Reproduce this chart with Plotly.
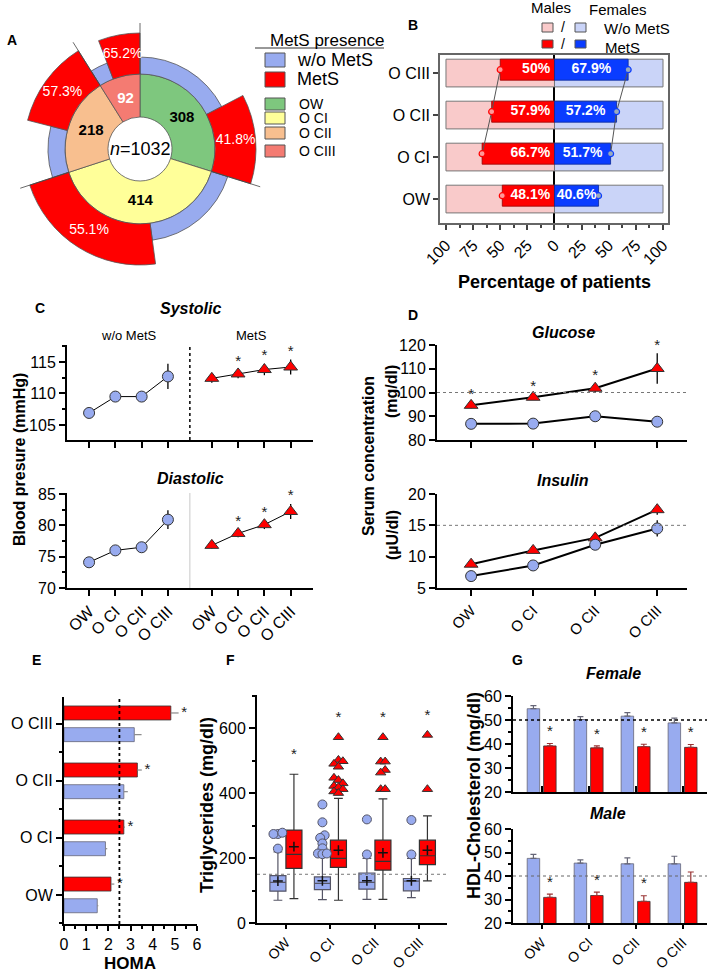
import plotly.graph_objects as go

W, H = 709, 972
FONT = "Liberation Sans, Arial, Helvetica, sans-serif"

# ------------------------------------------------------------------ data
groups = ["OW", "O CI", "O CII", "O CIII"]

# A: patients per group and % with MetS
group_n = [308, 414, 218, 92]
mets_pct = [41.8, 55.1, 57.3, 65.2]

# B: % with MetS by sex
total_pct = 100
male_mets_pct = [48.1, 66.7, 57.9, 50.0]
female_mets_pct = [40.6, 51.7, 57.2, 67.9]

# C: blood pressure (mean, error)
sys_wo = [106.9, 109.5, 109.5, 112.7]
sys_wo_err = [0.4, 0.5, 0.6, 2.0]
sys_m = [112.4, 113.1, 113.8, 114.2]
sys_m_err = [0.7, 0.7, 0.9, 1.2]
sys_sig = [False, True, True, True]
dia_wo = [74.1, 76.0, 76.5, 80.9]
dia_wo_err = [0.4, 0.4, 0.5, 1.5]
dia_m = [76.8, 78.7, 80.1, 82.2]
dia_m_err = [0.5, 0.6, 0.7, 1.2]
dia_sig = [False, True, True, True]

# D: glucose / insulin
glu_wo = [86.8, 86.9, 90.0, 87.7]
glu_wo_err = [0.8, 0.8, 1.3, 1.5]
glu_m = [94.6, 98.0, 101.8, 110.1]
glu_m_err = [1.2, 1.2, 1.8, 6.4]
glu_sig = [True, True, True, True]
ins_wo = [6.9, 8.6, 11.9, 14.5]
ins_wo_err = [0.3, 0.4, 0.6, 1.3]
ins_m = [8.8, 11.0, 13.0, 17.5]
ins_m_err = [0.4, 0.4, 0.6, 0.8]

# E: HOMA
homa_wo = [1.5, 1.87, 2.7, 3.17]
homa_wo_err = [0.05, 0.08, 0.18, 0.33]
homa_m = [2.12, 2.7, 3.31, 4.82]
homa_m_err = [0.15, 0.05, 0.2, 0.35]
homa_sig = [True, True, True, True]

# F: triglycerides box stats
tg_wo_q1 = [98, 103, 104, 99]
tg_wo_med = [125, 122, 125, 129]
tg_wo_q3 = [146, 142, 154, 137]
tg_wo_lo = [70, 72, 73, 78]
tg_wo_hi = [219, 209, 199, 199]
tg_wo_mean = [129, 130, 130, 130]
tg_wo_out = [[274, 274, 278, 229],
             [365, 310, 270, 262, 245, 230, 214, 212, 214],
             [319, 211], [317, 211]]
tg_m_q1 = [168, 171, 163, 180]
tg_m_med = [211, 199, 190, 207]
tg_m_q3 = [286, 255, 255, 255]
tg_m_lo = [75, 70, 73, 130]
tg_m_hi = [458, 384, 382, 330]
tg_m_mean = [235, 224, 216, 224]
tg_m_out = [[],
            [572, 502, 498, 490, 481, 447, 440, 430, 422, 418, 412, 405, 400],
            [572, 497, 497, 471, 463, 412, 412],
            [579, 412]]
tg_sig = [True, True, True, True]

# G: HDL cholesterol
hdl_f_wo = [54.7, 50.2, 51.6, 48.8]
hdl_f_wo_err = [1.3, 1.2, 1.5, 2.0]
hdl_f_m = [39.2, 38.4, 38.9, 38.6]
hdl_f_m_err = [1.0, 0.8, 1.0, 1.2]
hdl_f_sig = [True, True, True, True]
hdl_m_wo = [47.5, 45.5, 45.2, 45.2]
hdl_m_wo_err = [1.7, 1.4, 2.5, 3.2]
hdl_m_m = [30.9, 31.7, 29.2, 37.3]
hdl_m_m_err = [1.4, 1.4, 2.4, 4.4]
hdl_m_sig = [True, True, True, False]

# ------------------------------------------------------------------ style
BLUE_L = "#98abef"
RED = "#ff0000"
CAT_COLORS = ["#7ec77e", "#ffff99", "#f8bf8f", "#f47b72"]
PINK = "#f9caca"
LBLUE = "#cad4f8"
DBLUE = "#0a3cff"
OUT = "#333333"
pos = list(range(len(groups)))


def fx(px):
    return px / W


def fy(py):
    return 1 - py / H


def xdom(a, b):
    return [a / W, b / W]


def ydom(top, bottom):
    return [1 - bottom / H, 1 - top / H]


def axis(dom, rng, anchor, **kw):
    d = dict(domain=dom, range=rng, anchor=anchor, showgrid=False, zeroline=False,
             automargin=False,
             showline=True, linecolor="black", linewidth=2, ticks="outside",
             tickcolor="black", tickwidth=1.5, ticklen=6,
             tickfont=dict(size=16, color="black", family=FONT), fixedrange=True)
    d.update(kw)
    return d


annotations = []
shapes = []


def ann(text, x, y, size=14, color="black", xanchor="center", yanchor="middle",
        angle=0, bold=False, italic=False):
    t = text
    if bold:
        t = "<b>" + t + "</b>"
    if italic:
        t = "<i>" + t + "</i>"
    annotations.append(dict(text=t, x=fx(x), y=fy(y), xref="paper", yref="paper",
                            showarrow=False, xanchor=xanchor, yanchor=yanchor,
                            textangle=angle,
                            font=dict(size=size, color=color, family=FONT)))


def prect(x0, y0, x1, y1, color, line="#555"):
    shapes.append(dict(type="rect", xref="paper", yref="paper", x0=fx(x0), x1=fx(x1),
                       y0=fy(y1), y1=fy(y0), fillcolor=color,
                       line=dict(color=line, width=1)))


fig = go.Figure()

# ------------------------------------------------------------------ A (sunburst)
tot = sum(group_n)
spans = [n / tot * 360 for n in group_n]
starts = [sum(spans[:i]) for i in range(len(spans))]
centers = [s + w / 2 for s, w in zip(starts, spans)]
red_w = [w * p / 100 for w, p in zip(spans, mets_pct)]
blue_w = [w - r for w, r in zip(spans, red_w)]
blue_c = [s + b / 2 for s, b in zip(starts, blue_w)]
red_c = [s + b + r / 2 for s, b, r in zip(starts, blue_w, red_w)]
R_HOLE, R_MID, R_BLUE, R_RED, R_TICK = 32, 75, 92, 116, 126

fig.add_trace(go.Barpolar(theta=centers, width=spans, base=[R_HOLE] * 4,
                          r=[R_MID - R_HOLE] * 4,
                          marker=dict(color=CAT_COLORS, line=dict(color="#555", width=0.8)),
                          subplot="polar"))
fig.add_trace(go.Barpolar(theta=blue_c, width=blue_w, base=[R_MID] * 4,
                          r=[R_BLUE - R_MID] * 4,
                          marker=dict(color=BLUE_L, line=dict(color="#555", width=0.8)),
                          subplot="polar"))
fig.add_trace(go.Barpolar(theta=red_c, width=red_w, base=[R_MID] * 4,
                          r=[R_RED - R_MID] * 4,
                          marker=dict(color=RED, line=dict(color="#555", width=0.8)),
                          subplot="polar"))
lr, lt = [], []
for s in starts:
    lr += [R_MID, R_TICK, None]
    lt += [s, s, None]
fig.add_trace(go.Scatterpolar(r=lr, theta=lt, mode="lines",
                              line=dict(color="#444", width=0.8), subplot="polar"))
fig.add_trace(go.Scatterpolar(r=[52] * 4, theta=centers, mode="text",
                              text=["<b>%d</b>" % n for n in group_n],
                              textfont=dict(size=15, family=FONT,
                                            color=["black", "black", "black", "white"]),
                              subplot="polar"))
fig.add_trace(go.Scatterpolar(r=[96] * 4, theta=red_c, mode="text",
                              text=["%g%%" % p for p in mets_pct],
                              textfont=dict(size=14, family=FONT, color="white"),
                              subplot="polar"))
ann("<i>n</i>=%d" % tot, 140, 149, size=18)
ann("A", 5, 40, size=14, bold=True, xanchor="left")

# A legend
ann("MetS presence", 268, 40, size=17, xanchor="left")
shapes.append(dict(type="line", xref="paper", yref="paper", x0=fx(255), x1=fx(384),
                   y0=fy(48), y1=fy(48), line=dict(color="#333", width=1)))
prect(265, 53, 285, 67, BLUE_L)
ann("w/o MetS", 295, 60, size=18, xanchor="left")
prect(265, 72, 285, 87, RED)
ann("MetS", 295, 79, size=18, xanchor="left")
leg_y = [104, 118, 133, 151]
for g, c, yy in zip(groups, CAT_COLORS, leg_y):
    prect(265, yy - 6, 285, yy + 6, c)
    ann(g, 297, yy, size=14, xanchor="left")

# ------------------------------------------------------------------ B
yb = pos
fig.add_trace(go.Bar(orientation="h", y=yb, x=[-total_pct] * 4, width=0.66, offset=-0.33,
                     marker=dict(color=PINK, line=dict(color="#777", width=1)),
                     xaxis="x2", yaxis="y2"))
fig.add_trace(go.Bar(orientation="h", y=yb, x=[total_pct] * 4, width=0.66, offset=-0.33,
                     marker=dict(color=LBLUE, line=dict(color="#777", width=1)),
                     xaxis="x2", yaxis="y2"))
fig.add_trace(go.Bar(orientation="h", y=yb, x=[-v for v in male_mets_pct], width=0.5,
                     offset=-0.17, marker=dict(color=RED, line=dict(color="#900", width=0.8)),
                     xaxis="x2", yaxis="y2"))
fig.add_trace(go.Bar(orientation="h", y=yb, x=female_mets_pct, width=0.5,
                     offset=-0.17, marker=dict(color=DBLUE, line=dict(color="#0a2a99", width=0.8)),
                     xaxis="x2", yaxis="y2"))
ymid = [p + 0.08 for p in yb]
fig.add_trace(go.Scatter(x=[-v for v in male_mets_pct[1:]], y=ymid[1:], mode="lines",
                         line=dict(color="#555", width=1), xaxis="x2", yaxis="y2"))
fig.add_trace(go.Scatter(x=female_mets_pct[1:], y=ymid[1:], mode="lines",
                         line=dict(color="#555", width=1), xaxis="x2", yaxis="y2"))
fig.add_trace(go.Scatter(x=[-v for v in male_mets_pct], y=ymid, mode="markers",
                         marker=dict(size=6, color="#f99", line=dict(color=RED, width=1.2)),
                         xaxis="x2", yaxis="y2"))
fig.add_trace(go.Scatter(x=female_mets_pct, y=ymid, mode="markers",
                         marker=dict(size=6, color="#9ab", line=dict(color=DBLUE, width=1.2)),
                         xaxis="x2", yaxis="y2"))
fig.add_trace(go.Scatter(x=[-4] * 4, y=ymid, mode="text", textposition="middle left",
                         text=["<b>%g%%</b>" % v for v in male_mets_pct],
                         textfont=dict(color="white", size=14, family=FONT),
                         xaxis="x2", yaxis="y2"))
fig.add_trace(go.Scatter(x=[v / 2 for v in female_mets_pct], y=ymid, mode="text",
                         textposition="middle center",
                         text=["<b>%g%%</b>" % v for v in female_mets_pct],
                         textfont=dict(color="white", size=14, family=FONT),
                         xaxis="x2", yaxis="y2"))
ann("B", 413, 25, size=14, bold=True)
ann("Males", 551, 8, size=15)
ann("Females", 618, 9, size=15)
prect(542, 23, 553, 32, PINK)
ann("/", 563, 27, size=14)
prect(575, 23, 586, 32, LBLUE)
ann("W/o MetS", 602, 29, size=15, xanchor="left")
prect(542, 40, 553, 48, RED)
ann("/", 563, 44, size=14)
prect(575, 40, 586, 48, DBLUE)
ann("MetS", 603, 47, size=15, xanchor="left")
ann("Percentage of patients", 554, 282, size=18, bold=True)

# ------------------------------------------------------------------ C
GAP = 1.67
pos_c_wo = pos
pos_c_m = [p + GAP + len(pos) - 1 for p in pos]
sep_c = (pos_c_wo[-1] + pos_c_m[0]) / 2
circ = dict(symbol="circle", size=11, color=BLUE_L, line=dict(color=OUT, width=1))
tri = dict(symbol="triangle-up", size=12, color=RED, line=dict(color=OUT, width=1))


def series(xs, ys, errs, marker, xa, ya, lw=1):
    fig.add_trace(go.Scatter(x=xs, y=ys, mode="lines+markers", marker=marker,
                             line=dict(color="black", width=lw),
                             error_y=dict(type="data", array=errs, color="black",
                                          thickness=1.3, width=0),
                             xaxis=xa, yaxis=ya))


def stars(xs, ys, errs, sig, xa, ya, pos_txt="top center"):
    sx = [x for x, s in zip(xs, sig) if s]
    sy = [y + e for y, e, s in zip(ys, errs, sig) if s]
    fig.add_trace(go.Scatter(x=sx, y=sy, mode="text", text=["*"] * len(sx),
                             textposition=pos_txt, cliponaxis=False,
                             textfont=dict(size=15, color="#222", family=FONT),
                             xaxis=xa, yaxis=ya))


series(pos_c_wo, sys_wo, sys_wo_err, circ, "x3", "y3")
series(pos_c_m, sys_m, sys_m_err, tri, "x3", "y3")
stars(pos_c_m, sys_m, sys_m_err, sys_sig, "x3", "y3")
series(pos_c_wo, dia_wo, dia_wo_err, circ, "x4", "y4")
series(pos_c_m, dia_m, dia_m_err, tri, "x4", "y4")
stars(pos_c_m, dia_m, dia_m_err, dia_sig, "x4", "y4")
shapes.append(dict(type="line", xref="x3", yref="y3 domain", x0=sep_c, x1=sep_c, y0=0, y1=1,
                   line=dict(color="black", width=1.5, dash="dot")))
shapes.append(dict(type="line", xref="x4", yref="y4 domain", x0=sep_c, x1=sep_c, y0=0, y1=1,
                   line=dict(color="#c8c8c8", width=1)))
annotations.append(dict(text="w/o MetS", x=sum(pos_c_wo) / 4, y=fy(335), xref="x3",
                        yref="paper", showarrow=False, font=dict(size=13, family=FONT)))
annotations.append(dict(text="MetS", x=sum(pos_c_m) / 4, y=fy(335), xref="x3",
                        yref="paper", showarrow=False, font=dict(size=13, family=FONT)))
ann("C", 40, 308, size=14, bold=True)
ann("Systolic", 190, 308, size=16, bold=True, italic=True)
ann("Diastolic", 190, 478, size=16, bold=True, italic=True)
ann("Blood presure (mmHg)", 20, 460, size=16, bold=True, angle=-90)

# ------------------------------------------------------------------ D
series(pos, glu_m, glu_m_err, tri, "x5", "y5", lw=2)
series(pos, glu_wo, glu_wo_err, circ, "x5", "y5", lw=2)
stars(pos, glu_m, glu_m_err, glu_sig, "x5", "y5")
series(pos, ins_m, ins_m_err, tri, "x6", "y6", lw=2)
series(pos, ins_wo, ins_wo_err, circ, "x6", "y6", lw=2)
shapes.append(dict(type="line", xref="x5 domain", yref="y5", x0=0, x1=1, y0=100, y1=100,
                   line=dict(color="#777", width=1, dash="dot")))
shapes.append(dict(type="line", xref="x6 domain", yref="y6", x0=0, x1=1, y0=15, y1=15,
                   line=dict(color="#777", width=1, dash="dot")))
ann("D", 413, 315, size=14, bold=True)
ann("Glucose", 563, 332, size=16, bold=True, italic=True)
ann("Insulin", 563, 480, size=16, bold=True, italic=True)
ann("Serum concentration", 368, 456, size=16, bold=True, angle=-90)
ann("(mg/dl)", 392, 392, size=16, bold=True, angle=-90)
ann("(\u00b5U/dl)", 392, 535, size=16, bold=True, angle=-90)

# ------------------------------------------------------------------ E
BW = 0.245
fig.add_trace(go.Bar(orientation="h", y=pos, x=homa_m, width=BW, offset=0.0675,
                     marker=dict(color=RED, line=dict(color=OUT, width=0.8)),
                     error_x=dict(type="data", symmetric=False, array=homa_m_err,
                                  arrayminus=[0] * 4, color="#888", thickness=1.2, width=0),
                     xaxis="x7", yaxis="y7"))
fig.add_trace(go.Bar(orientation="h", y=pos, x=homa_wo, width=BW, offset=-0.3125,
                     marker=dict(color=BLUE_L, line=dict(color="#667", width=0.8)),
                     error_x=dict(type="data", symmetric=False, array=homa_wo_err,
                                  arrayminus=[0] * 4, color="#888", thickness=1.2, width=0),
                     xaxis="x7", yaxis="y7"))
sx = [v + e + 0.25 for v, e, s in zip(homa_m, homa_m_err, homa_sig) if s]
sy = [p + 0.19 for p, s in zip(pos, homa_sig) if s]
fig.add_trace(go.Scatter(x=sx, y=sy, mode="text", text=["*"] * len(sx),
                         textposition="middle center", cliponaxis=False,
                         textfont=dict(size=15, color="#222", family=FONT),
                         xaxis="x7", yaxis="y7"))
shapes.append(dict(type="line", xref="x7", yref="y7 domain", x0=2.5, x1=2.5, y0=0, y1=1,
                   line=dict(color="black", width=1.8, dash="dot")))
ann("E", 36, 660, size=14, bold=True)
ann("HOMA", 130, 963, size=17, bold=True)

# ------------------------------------------------------------------ F
BOXOFF = 0.18


def spread(vals, step):
    offs = [0.0] * len(vals)
    order = sorted(range(len(vals)), key=lambda i: vals[i])
    clusters = []
    for i in order:
        if clusters and abs(vals[i] - vals[clusters[-1][-1]]) < 14:
            clusters[-1].append(i)
        else:
            clusters.append([i])
    pattern = [0, -1, 1]
    for c in clusters:
        if len(c) == 1:
            continue
        if len(c) == 2:
            offs[c[0]], offs[c[1]] = -0.5 * step, 0.5 * step
            continue
        for k, i in enumerate(c):
            offs[i] = pattern[k % 3] * step
    return offs


for sgn, q1, med, q3, lo, hi, mean, outs, col, sym, lc in [
    (-1, tg_wo_q1, tg_wo_med, tg_wo_q3, tg_wo_lo, tg_wo_hi, tg_wo_mean, tg_wo_out, BLUE_L,
     "circle", "#556"),
    (1, tg_m_q1, tg_m_med, tg_m_q3, tg_m_lo, tg_m_hi, tg_m_mean, tg_m_out, RED,
     "triangle-up", "#333")]:
    xs = [p + sgn * BOXOFF for p in pos]
    fig.add_trace(go.Box(x=xs, q1=q1, median=med, q3=q3, lowerfence=lo, upperfence=hi,
                         boxpoints=False, width=0.36, whiskerwidth=0.55,
                         fillcolor=col, line=dict(color=lc, width=1.2),
                         xaxis="x8", yaxis="y8"))
    fig.add_trace(go.Scatter(x=xs, y=mean, mode="markers",
                             marker=dict(symbol="cross-thin", size=7,
                                         line=dict(color="#111", width=1.5)),
                             xaxis="x8", yaxis="y8"))
    ox, oy = [], []
    for x0, vals in zip(xs, outs):
        offs = spread(vals, 0.1)
        ox += [x0 + o for o in offs]
        oy += vals
    fig.add_trace(go.Scatter(x=ox, y=oy, mode="markers",
                             marker=dict(symbol=sym, size=9, color=col,
                                         line=dict(color=lc, width=1)),
                             xaxis="x8", yaxis="y8"))
tops = [max([h] + o) for h, o in zip(tg_m_hi, tg_m_out)]
sx = [p + BOXOFF for p, s in zip(pos, tg_sig) if s]
sy = [t + 35 for t, s in zip(tops, tg_sig) if s]
fig.add_trace(go.Scatter(x=sx, y=sy, mode="text", text=["*"] * len(sx),
                         textposition="top center", cliponaxis=False,
                         textfont=dict(size=15, color="#222", family=FONT),
                         xaxis="x8", yaxis="y8"))
shapes.append(dict(type="line", xref="x8 domain", yref="y8", x0=0, x1=1, y0=150, y1=150,
                   line=dict(color="#777", width=1, dash="dot")))
ann("F", 230, 660, size=14, bold=True)
ann("Triglycerides (mg/dl)", 207, 805, size=18, bold=True, angle=-90)

# ------------------------------------------------------------------ G
GW = 0.266
GOFF = 0.175
for xa, ya, wo, woe, mm, mme, sig in [
    ("x9", "y9", hdl_f_wo, hdl_f_wo_err, hdl_f_m, hdl_f_m_err, hdl_f_sig),
    ("x10", "y10", hdl_m_wo, hdl_m_wo_err, hdl_m_m, hdl_m_m_err, hdl_m_sig)]:
    fig.add_trace(go.Bar(x=pos, y=wo, width=GW, offset=-GOFF - GW / 2,
                         marker=dict(color=BLUE_L, line=dict(color="#667", width=0.8)),
                         error_y=dict(type="data", symmetric=False, array=woe,
                                      arrayminus=[0] * 4, color="#667", thickness=1.2, width=3),
                         xaxis=xa, yaxis=ya))
    fig.add_trace(go.Bar(x=pos, y=mm, width=GW, offset=GOFF - GW / 2,
                         marker=dict(color=RED, line=dict(color=OUT, width=0.8)),
                         error_y=dict(type="data", symmetric=False, array=mme,
                                      arrayminus=[0] * 4, color="#933", thickness=1.2, width=3),
                         xaxis=xa, yaxis=ya))
    sx = [p + GOFF for p, s in zip(pos, sig) if s]
    sy = [v + e + 1.5 for v, e, s in zip(mm, mme, sig) if s]
    fig.add_trace(go.Scatter(x=sx, y=sy, mode="text", text=["*"] * len(sx),
                             textposition="top center", cliponaxis=False,
                             textfont=dict(size=15, color="#222", family=FONT),
                             xaxis=xa, yaxis=ya))
shapes.append(dict(type="line", xref="x9 domain", yref="y9", x0=0, x1=1, y0=50, y1=50,
                   line=dict(color="black", width=1.5, dash="dot")))
shapes.append(dict(type="line", xref="x10 domain", yref="y10", x0=0, x1=1, y0=40, y1=40,
                   line=dict(color="#666", width=1, dash="dot")))
ann("G", 517, 660, size=14, bold=True)
ann("Female", 613, 673, size=16, bold=True, italic=True)
ann("Male", 608, 813, size=16, bold=True, italic=True)
ann("HDL-Cholesterol (mg/dl)", 474, 796, size=18, bold=True, angle=-90)

# ------------------------------------------------------------------ layout
c_ticks = pos_c_wo + pos_c_m
small_font = dict(size=14, color="black", family=FONT)
mid_font = dict(size=15, color="black", family=FONT)
layout = dict(
    width=W, height=H, margin=dict(l=0, r=0, t=0, b=0, autoexpand=False),
    paper_bgcolor="white", plot_bgcolor="white", showlegend=False,
    barmode="overlay", boxmode="overlay",
    font=dict(family=FONT, color="black"),
    polar=dict(domain=dict(x=xdom(140 - 128, 140 + 128), y=ydom(149 - 128, 149 + 128)),
               bgcolor="rgba(0,0,0,0)", barmode="overlay",
               radialaxis=dict(visible=False, range=[0, 128]),
               angularaxis=dict(visible=False, direction="clockwise", rotation=90)),
    # B
    xaxis2=axis(xdom(440, 668), [-105.5, 104.6], "y2",
                tickvals=[-100, -75, -50, -25, 0, 25, 50, 75, 100],
                ticktext=["100", "75", "50", "25", "0", "25", "50", "75", "100"],
                tickangle=-45, mirror=True, linecolor="#666", linewidth=1.5,
                tickcolor="#444", ticklen=5, zeroline=True, zerolinecolor="black",
                zerolinewidth=1.5, minor=dict(dtick=12.5, tick0=0, ticks="outside",
                                              ticklen=3, tickcolor="#444")),
    yaxis2=axis(ydom(55, 223), [-0.57, 3.43], "x2", tickvals=pos, ticktext=groups,
                mirror=True, linecolor="#666", linewidth=1.5, tickcolor="#444", ticklen=5),
    # C
    xaxis3=axis(xdom(67, 313), [-0.84, 8.52], "y3", tickvals=c_ticks, showticklabels=False),
    yaxis3=axis(ydom(345, 440), [102.6, 117.7], "x3", tickvals=[105, 110, 115],
                minor=dict(dtick=2.5, tick0=0, ticks="outside", ticklen=3, tickcolor="black")),
    xaxis4=axis(xdom(67, 313), [-0.84, 8.52], "y4", tickvals=c_ticks,
                ticktext=groups + groups, tickangle=-45),
    yaxis4=axis(ydom(493, 588), [70, 85.15], "x4", tickvals=[70, 75, 80, 85],
                minor=dict(dtick=2.5, tick0=0, ticks="outside", ticklen=3, tickcolor="black")),
    # D
    xaxis5=axis(xdom(437, 687), [-0.55, 3.48], "y5", tickvals=pos, showticklabels=False),
    yaxis5=axis(ydom(345, 440), [80, 120], "x5", dtick=10),
    xaxis6=axis(xdom(437, 687), [-0.55, 3.48], "y6", tickvals=pos, ticktext=groups,
                tickangle=-45, tickfont=mid_font),
    yaxis6=axis(ydom(494, 588), [5, 20], "x6", dtick=5),
    # E
    xaxis7=axis(xdom(64, 197), [0, 6], "y7", dtick=1, ticklen=5,
                minor=dict(dtick=0.5, ticks="outside", ticklen=3, tickcolor="black")),
    yaxis7=axis(ydom(697, 924), [-0.51, 3.47], "x7", tickvals=pos, ticktext=groups,
                minor=dict(tickvals=[p + 0.5 for p in pos[:-1]] + [-0.5], ticks="outside",
                           ticklen=3, tickcolor="black")),
    # F
    xaxis8=axis(xdom(257, 447), [-0.65, 3.62], "y8", tickvals=pos, ticktext=groups,
                tickangle=-45, ticklen=4, tickfont=small_font),
    yaxis8=axis(ydom(695, 923), [0, 702], "x8", dtick=200,
                minor=dict(dtick=100, ticks="outside", ticklen=3, tickcolor="black")),
    # G
    xaxis9=axis(xdom(513, 707), [-0.61, 3.52], "y9", tickvals=pos, showticklabels=False,
                ticks="inside"),
    yaxis9=axis(ydom(696, 792), [20, 60], "x9", dtick=10,
                minor=dict(dtick=5, ticks="outside", ticklen=3, tickcolor="black")),
    xaxis10=axis(xdom(513, 707), [-0.61, 3.52], "y10", tickvals=pos, ticktext=groups,
                 tickangle=-45, ticklen=4, tickfont=small_font),
    yaxis10=axis(ydom(829, 923), [20, 60], "x10", dtick=10,
                 minor=dict(dtick=5, ticks="outside", ticklen=3, tickcolor="black")),
    annotations=annotations, shapes=shapes,
)
fig.update_layout(**layout)
fig.write_html("out.html", config={"displayModeBar": False},
               post_script="document.body.style.margin='0';document.body.style.padding='0';")
